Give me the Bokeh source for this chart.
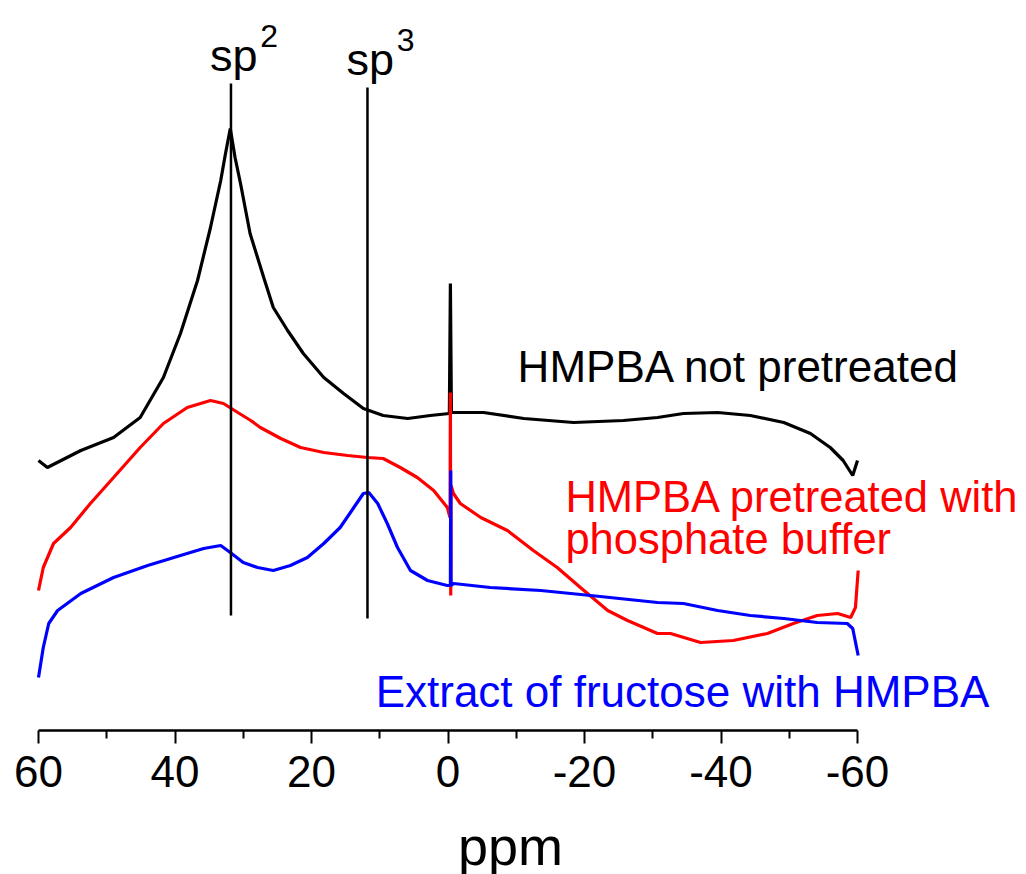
from bokeh.plotting import figure
from bokeh.models import Range1d, FixedTicker, Label
from bokeh.embed import file_html
from bokeh.resources import INLINE

# ---- data (ppm, intensity, arbitrary units) ----
black_ppm = [60.0, 58.7, 53.8, 49.0, 45.1, 41.7, 39.2, 36.7, 34.8, 33.3, 32.6, 31.9, 31.2, 30.4,
             29.0, 27.0, 25.6, 23.5, 21.2, 18.2, 15.3, 12.4, 9.5, 5.9, 2.6, -0.2, -0.35, -0.5,
             -5.2, -11.1, -18.4, -25.7, -30.7, -34.5, -39.5, -44.3, -49.2, -53.1, -56.0, -57.9,
             -59.3, -60.0]
black_int = [270, 263, 280, 293, 313, 353, 397, 450, 503, 550, 577, 602, 573, 547,
             497, 453, 423, 400, 377, 353, 337, 322, 315, 312, 315, 317, 447, 318,
             318, 312, 308, 310, 313, 317, 318, 315, 308, 297, 283, 270,
             255, 270]

red_ppm = [60.0, 59.3, 57.8, 55.3, 52.4, 49.0, 45.1, 41.7, 38.2, 34.8, 32.9, 30.8, 28.9, 27.5,
           24.5, 21.6, 18.2, 14.7, 11.8, 9.5, 7.0, 4.5, 2.1, 0.1, -0.3, -0.35, -0.4, -0.45,
           -0.8, -1.8, -4.8, -8.7, -12.5, -16.0, -19.4, -23.4, -26.3, -30.7, -32.6, -37.0,
           -41.8, -46.8, -50.6, -54.1, -57.1, -59.0, -59.7, -60.1]
red_int = [140, 163, 187, 203, 227, 253, 283, 307, 323, 330, 327, 318, 310, 303,
           292, 283, 278, 275, 273, 272, 263, 253, 240, 223, 213, 338, 135, 245,
           237, 227, 213, 200, 180, 163, 143, 120, 110, 97, 97, 88,
           90, 97, 107, 115, 117, 113, 123, 160]

blue_ppm = [60.0, 59.3, 58.5, 57.2, 53.8, 49.0, 44.0, 39.2, 35.8, 33.3, 31.9, 30.0, 27.9, 25.6,
            23.1, 20.6, 18.2, 15.8, 13.9, 12.4, 11.6, 10.3, 8.9, 7.4, 5.5, 3.0, 0.1, -0.35,
            -0.4, -0.45, -0.8, -6.2, -13.6, -20.9, -30.7, -34.5, -39.5, -44.3, -49.2, -54.1,
            -58.5, -59.3, -60.1]
blue_int = [53, 83, 107, 120, 137, 153, 165, 175, 182, 185, 178, 168, 163, 160,
            165, 173, 187, 203, 222, 237, 238, 227, 207, 183, 160, 150, 145, 145,
            260, 145, 147, 143, 140, 135, 128, 127, 120, 115, 112, 108,
            107, 102, 75]

marker_ppm = [31.8, 11.8]
marker_labels = ["sp", "sp"]
marker_sup = ["2", "3"]
marker_bottom = [115, 112]
marker_top = [647, 643]

tick_values = [60, 40, 20, 0, -20, -40, -60]
tick_labels = ["60", "40", "20", "0", "-20", "-40", "-60"]
minor_values = [50, 30, 10, -10, -30, -50]

FONT = "Liberation Sans"
PX_PER_PPM = 6.825
FRAME_W, FRAME_H = 1020, 730
X_START = 60 + 38 / PX_PER_PPM

p = figure(frame_width=FRAME_W, frame_height=FRAME_H,
           x_range=Range1d(X_START, X_START - FRAME_W / PX_PER_PPM),
           y_range=Range1d(0, FRAME_H),
           output_backend="svg", toolbar_location=None, y_axis_type=None,
           min_border_left=0, min_border_right=0, min_border_top=0, min_border_bottom=0)
p.outline_line_color = None
p.grid.visible = False
p.background_fill_color = "white"
p.border_fill_color = "white"

p.line(black_ppm, black_int, line_color="black", line_width=3.2)
p.line(red_ppm, red_int, line_color="#ff0000", line_width=3.2)
p.line(blue_ppm, blue_int, line_color="#0000ff", line_width=3.2)

p.segment(x0=marker_ppm, y0=marker_bottom, x1=marker_ppm, y1=marker_top,
          line_color="black", line_width=2.5)


def label(x, y, text, size, color, align="left"):
    # baseline compensation for Bokeh's label placement
    p.add_layout(Label(x=x, y=y + 0.39 * size, text=text, text_align=align,
                       text_baseline="alphabetic", text_font=FONT,
                       text_font_size=f"{size}px", text_color=color))


for xm, lab, sup, top in zip(marker_ppm, marker_labels, marker_sup, marker_top):
    label(xm - 0.4, top + 10, lab, 45, "black", align="center")
    label(xm - 4.3, top + 35, sup, 32, "black")

label(-10.2, 347, "HMPBA not pretreated", 44, "black")
label(-17.2, 217, "HMPBA pretreated with", 43.5, "#ff0000")
label(-17.2, 175, "phosphate buffer", 43.5, "#ff0000")
label(10.6, 22, "Extract of fructose with HMPBA", 44, "#0000ff")

ax = p.xaxis[0]
ax.ticker = FixedTicker(ticks=tick_values, minor_ticks=minor_values)
ax.major_label_overrides = {v: s for v, s in zip(tick_values, tick_labels)}
ax.bounds = (-60, 60)
ax.axis_line_width = 2.5
ax.axis_line_color = "black"
ax.major_tick_line_width = 2
ax.minor_tick_line_width = 2
ax.major_tick_line_color = "black"
ax.minor_tick_line_color = "black"
ax.major_tick_out = 13
ax.major_tick_in = 0
ax.minor_tick_out = 8
ax.minor_tick_in = 0
ax.major_label_text_font = FONT
ax.major_label_text_font_size = "44px"
ax.major_label_text_color = "black"
ax.major_label_standoff = 12
ax.axis_label = "ppm"
ax.axis_label_text_font = FONT
ax.axis_label_text_font_size = "54px"
ax.axis_label_text_font_style = "normal"
ax.axis_label_text_color = "black"
ax.axis_label_standoff = 26

open("out.html", "w").write(file_html(p, INLINE))
